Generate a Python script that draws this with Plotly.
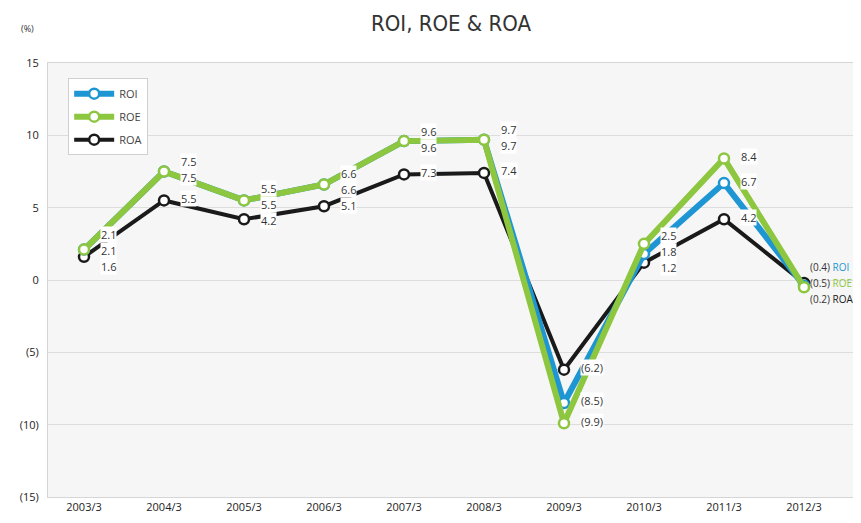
import plotly.graph_objects as go

categories = ["2003/3", "2004/3", "2005/3", "2006/3", "2007/3",
              "2008/3", "2009/3", "2010/3", "2011/3", "2012/3"]
roi = [2.1, 7.5, 5.5, 6.6, 9.6, 9.7, -8.5, 1.8, 6.7, -0.4]
roe = [2.1, 7.5, 5.5, 6.6, 9.6, 9.7, -9.9, 2.5, 8.4, -0.5]
roa = [1.6, 5.5, 4.2, 5.1, 7.3, 7.4, -6.2, 1.2, 4.2, -0.2]
y_tick_vals = [15, 10, 5, 0, -5, -10, -15]
y_tick_text = ["15", "10", "5", "0", "(5)", "(10)", "(15)"]

C_ROI = "#1e96d3"
C_ROE = "#8dc63f"
C_ROA = "#1a1a1a"
FONT = "Open Sans, sans-serif"

# page body has an 8px margin, so the figure is a bit smaller than the window
W, H = 853, 515
ML, MR, MT, MB = 40, 6, 55, 26
PH = H - MT - MB
YMIN, YMAX = -15, 15
PX_PER_UNIT = PH / (YMAX - YMIN)

x = list(range(len(categories)))


def fmt(v):
    return f"({abs(v):.1f})" if v < 0 else f"{v:.1f}"


def to_px(v):
    return MT + (YMAX - v) * PX_PER_UNIT


fig = go.Figure()
series = [("ROA", roa, C_ROA, 4, 3), ("ROI", roi, C_ROI, 6, 1), ("ROE", roe, C_ROE, 6, 2)]
for name, vals, col, lw, rank in series:
    fig.add_trace(go.Scatter(
        x=x, y=vals, name=name, mode="lines+markers", legendgroup=name,
        line=dict(color=col, width=lw),
        marker=dict(size=10, color="white", line=dict(color=col, width=2.5)),
        legendrank=rank, cliponaxis=False,
    ))

GAP = 16
annotations = []
for i in x:
    last = i == len(x) - 1
    if last:
        items = [("ROI", roi[i], C_ROI), ("ROE", roe[i], C_ROE), ("ROA", roa[i], C_ROA)]
    else:
        items = [("ROE", roe[i], C_ROE), ("ROI", roi[i], C_ROI), ("ROA", roa[i], C_ROA)]
        items = sorted(items, key=lambda t: to_px(t[1]))
    desired = [to_px(v) - 2 for _, v, _ in items]
    clusters = [[k] for k in range(len(items))]
    pos = list(desired)

    def layout(cl):
        m = sum(desired[k] for k in cl) / len(cl)
        start = m - GAP * (len(cl) - 1) / 2
        for j, k in enumerate(cl):
            pos[k] = start + GAP * j

    changed = True
    while changed:
        changed = False
        for c in clusters:
            layout(c)
        for a in range(len(clusters) - 1):
            if pos[clusters[a + 1][0]] - pos[clusters[a][-1]] < GAP:
                clusters[a] = clusters[a] + clusters[a + 1]
                del clusters[a + 1]
                changed = True
                break
    for k, (name, v, col) in enumerate(items):
        text = fmt(v)
        if last:
            text = f"{text} <span style='color:{col}'>{name}</span>"
        annotations.append(dict(
            x=i, y=v, xref="x", yref="y", text=text, showarrow=False,
            xanchor="left", yanchor="middle",
            xshift=5 if last else 16, yshift=to_px(v) - pos[k],
            font=dict(family=FONT, size=10 if last else 11, color="#333333"),
            bgcolor="rgba(0,0,0,0)" if last else "white", borderpad=0,
        ))

annotations.append(dict(
    xref="paper", yref="paper", x=-(ML - 28) / (W - ML - MR), y=1.0 + (MT - 20) / PH,
    text="(%)", showarrow=False, xanchor="right", yanchor="middle",
    font=dict(family=FONT, size=9, color="#333333"),
))

fig.update_layout(
    width=W, height=H,
    margin=dict(l=ML, r=MR, t=MT, b=MB, pad=0),
    paper_bgcolor="white", plot_bgcolor="#f6f6f6",
    title=dict(text="ROI, ROE &amp; ROA", x=443 / W, xanchor="center", y=1 - 15 / H, yanchor="middle",
               font=dict(family="Liberation Sans Narrow, DejaVu Sans Condensed, sans-serif", size=22, color="#333333")),
    showlegend=True,
    legend=dict(x=0.025, y=0.965, xanchor="left", yanchor="top",
                bgcolor="white", bordercolor="#d0d0d0", borderwidth=1,
                font=dict(family=FONT, size=11, color="#444444"),
                itemwidth=40, tracegroupgap=4),
    annotations=annotations,
)
fig.update_xaxes(
    range=[-0.45, 9.6375], tickvals=x, ticktext=categories, showgrid=False, zeroline=False,
    showline=True, linecolor="#d5d5d5", mirror=True, ticks="",
    tickfont=dict(family=FONT, size=11, color="#222222"),
)
fig.update_yaxes(
    range=[YMIN, YMAX], tickvals=y_tick_vals, ticktext=y_tick_text,
    showgrid=True, gridcolor="#dddddd", gridwidth=1, zeroline=False,
    showline=True, linecolor="#d5d5d5", mirror=True, ticks="", ticklabelstandoff=6,
    tickfont=dict(family=FONT, size=11, color="#222222"),
)

fig.write_html("out.html")
